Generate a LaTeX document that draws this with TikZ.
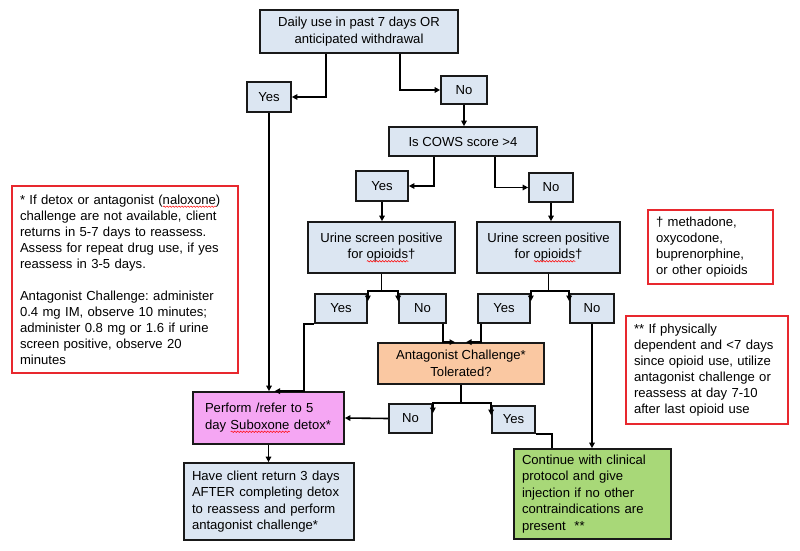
\documentclass[tikz,border=0pt]{standalone}
\usepackage{fontspec}
\setmainfont{Liberation Sans}
\usetikzlibrary{arrows.meta,calc,decorations.pathmorphing}
\definecolor{boxblue}{HTML}{DCE6F2}
\definecolor{peach}{HTML}{FAC8A2}
\definecolor{pinkbox}{HTML}{F5A6F3}
\definecolor{greenbox}{HTML}{A8D878}
\definecolor{notered}{HTML}{E8282E}
\frenchspacing
\newcommand{\squig}[1]{\setbox0=\hbox{#1}\leavevmode\rlap{\raisebox{-2.5pt}{\tikz[x=1pt,y=1pt,baseline=0pt]\draw[red,line width=0.5pt,decorate,decoration={snake,amplitude=0.7pt,segment length=3pt}] (0,0)--(\the\wd0,0);}}\box0\relax}
\tikzset{
  flow/.style={draw=black!90, line width=1.7pt, fill=boxblue, inner sep=0pt, align=center,
    font=\fontsize{13.1}{16.5}\selectfont},
  leftbox/.style={flow, align=left, inner xsep=8pt},
  note/.style={draw=notered, line width=1.1pt, fill=white, inner sep=0pt, inner xsep=8pt, align=left,
    font=\fontsize{13.1}{16}\selectfont},
  arr/.style={line width=1.6pt, -{Triangle[length=5.5pt,width=5.5pt]}},
  ln/.style={line width=1.6pt},
}
\begin{document}
\begin{tikzpicture}[x=1pt,y=-1pt]
\useasboundingbox[fill=white] (0,0) rectangle (800,551);
% nodes
\node[flow, minimum width=198pt, minimum height=43pt] (top) at (359,31.5) {Daily use in past 7 days OR\\anticipated withdrawal};
\node[flow, minimum width=44pt, minimum height=30pt] (y1) at (269,97) {Yes};
\node[flow, minimum width=46pt, minimum height=28pt] (n1) at (464,90) {No};
\node[flow, minimum width=148pt, minimum height=29pt] (cows) at (463,141.5) {Is COWS score {>}4};
\node[flow, minimum width=52pt, minimum height=30pt] (yA) at (382,186) {Yes};
\node[flow, minimum width=44pt, minimum height=29pt] (nA) at (551,187.5) {No};
\node[flow, minimum width=147pt, minimum height=51pt] (u1) at (381.5,247.5) {Urine screen positive\\for \squig{opioids}†};
\node[flow, minimum width=143pt, minimum height=51pt] (u2) at (548.5,247.5) {Urine screen positive\\for \squig{opioids}†};
\node[flow, minimum width=52pt, minimum height=29pt] (yB) at (341,308.5) {Yes};
\node[flow, minimum width=47pt, minimum height=29pt] (nB) at (422.5,308.5) {No};
\node[flow, minimum width=52pt, minimum height=29pt] (yC) at (504,308.5) {Yes};
\node[flow, minimum width=44pt, minimum height=29pt] (nC) at (592,308.5) {No};
\node[flow, fill=peach, minimum width=166pt, minimum height=41pt] (ag) at (461,363.5) {Antagonist Challenge*\\Tolerated?};
\node[leftbox, fill=pinkbox, inner xsep=12pt, text width=127pt, minimum height=52pt] (det) at (268.5,418) {Perform /refer to 5\\day \squig{Suboxone} detox*};
\node[flow, minimum width=43pt, minimum height=29pt] (nD) at (410.5,418.5) {No};
\node[flow, minimum width=43pt, minimum height=27pt] (yD) at (513.5,419.5) {Yes};
\node[leftbox, text width=154pt, minimum height=77pt] (have) at (269,501.5) {Have client return 3 days\\AFTER completing detox\\to reassess and perform\\antagonist challenge*};
\node[leftbox, fill=greenbox, text width=141pt, minimum height=90pt] (green) at (592.5,494) {Continue with clinical\\protocol and give\\injection if no other\\contraindications are\\present\ \ **};
\node[note, text width=210pt, minimum height=187pt] (noteL) at (125,279.5) {* If detox or antagonist (\squig{naloxone})\\challenge are not available, client\\returns in 5-7 days to reassess.\\Assess for repeat drug use, if yes\\reassess in 3-5 days.\\[16pt]Antagonist Challenge: administer\\0.4 mg IM, observe 10 minutes;\\administer 0.8 mg or 1.6 if urine\\screen positive, observe 20\\minutes};
\node[note, text width=109pt, minimum height=74pt] (noteR1) at (710.5,247) {† methadone,\\oxycodone,\\buprenorphine,\\or other opioids};
\node[note, text width=146pt, minimum height=108pt] (noteR2) at (707,370) {** If physically\\dependent and {<}7 days\\since opioid use, utilize\\antagonist challenge or\\reassess at day 7-10\\after last opioid use};
% connectors
\draw[arr] ($(top.south west)+(67,0)$) |- (y1.east);
\draw[arr] ($(top.south west)+(141,0)$) |- (n1.west);
\draw[arr] (n1.south) -- (n1.south |- cows.north);
\draw[arr] ($(cows.south west)+(46,0)$) |- (yA.east);
\draw[arr] ($(cows.south west)+(107,0)$) |- (nA.west);
\draw[arr] (yA.south) -- (yA.south |- u1.north);
\draw[arr] (nA.south) -- (nA.south |- u2.north);
\coordinate (s1) at ($(u1.south)+(0,17)$);
\draw[ln] (u1.south) -- (s1);
\draw[arr] (s1) -| ($(yB.north east)+(0,8)$);
\draw[arr] (s1) -| ($(nB.north west)+(0,8)$);
\coordinate (s2) at ($(u2.south)+(0,17)$);
\draw[ln] (u2.south) -- (s2);
\draw[arr] (s2) -| ($(yC.north east)+(0,8)$);
\draw[arr] (s2) -| ($(nC.north west)+(0,8)$);
\draw[arr] (yB.south west) -- ++(-10,0) |- ($(det.north)+(6,0)$);
\draw[arr] (y1.south) -- (y1.south |- det.north);
\draw[arr] ($(nB.south east)+(-4,0)$) |- ($(ag.north)+(-6,0)$);
\draw[arr] ($(yC.south west)+(4,0)$) |- ($(ag.north)+(5,0)$);
\coordinate (s3) at ($(ag.south)+(0,18)$);
\draw[ln] (ag.south) -- (s3);
\draw[arr] (s3) -| ($(nD.north east)+(0,10)$);
\draw[arr] (s3) -| ($(yD.north west)+(0,10)$);
\draw[arr] (nD.west) -- (det.east);
\draw[ln] (yD.south east) -| ($(green.north west)+(39,0)$);
\draw[arr] (nC.south) -- (nC.south |- green.north);
\draw[arr] (det.south) -- (det.south |- have.north);
\end{tikzpicture}
\end{document}
